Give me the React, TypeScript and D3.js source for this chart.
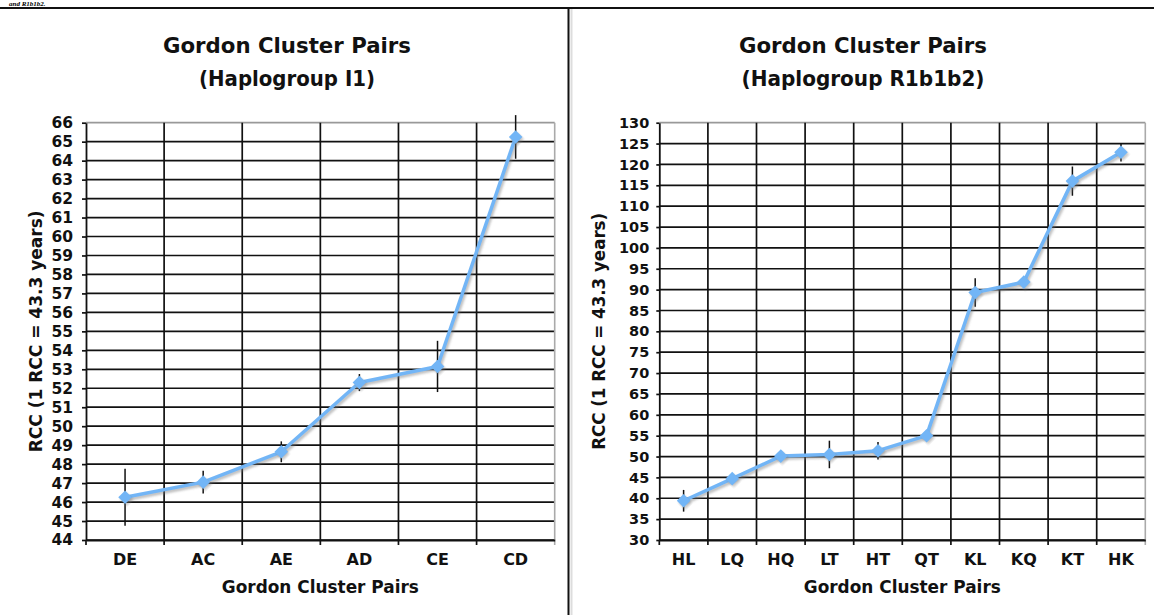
import { useEffect, useRef } from 'react'
import * as d3 from 'd3'

// Haplogroup I1
const i1Pairs = ['DE', 'AC', 'AE', 'AD', 'CE', 'CD']
const i1Values = [46.25, 47.05, 48.65, 52.3, 53.15, 65.25]
const i1Errors = [1.5, 0.6, 0.55, 0.45, 1.35, 1.15]
const i1Ticks = [44, 45, 46, 47, 48, 49, 50, 51, 52, 53, 54, 55, 56, 57, 58, 59, 60, 61, 62, 63, 64, 65, 66]

// Haplogroup R1b1b2
const r1Pairs = ['HL', 'LQ', 'HQ', 'LT', 'HT', 'QT', 'KL', 'KQ', 'KT', 'HK']
const r1Values = [39.4, 44.7, 50.1, 50.5, 51.4, 55.0, 89.3, 91.8, 116.0, 122.9]
const r1Errors = [2.6, 0.9, 0.4, 3.3, 2.1, 0.5, 3.4, 0.5, 3.5, 2.2]
const r1Ticks = [30, 35, 40, 45, 50, 55, 60, 65, 70, 75, 80, 85, 90, 95, 100, 105, 110, 115, 120, 125, 130]

const FONT = "'DejaVu Sans', 'Liberation Sans', Arial, sans-serif"
const BLUE = '#72b5f6'

const drawPanel = (svg, cfg) => {
  const { cats, values, errors, ticks } = cfg
  const g = svg.append('g')

  const x = d3.scaleBand().domain(cats).range([cfg.x0, cfg.x1]).padding(0)
  const y = d3.scaleLinear()
    .domain([ticks[0], ticks[ticks.length - 1]])
    .range([cfg.y1, cfg.y0])
  const cx = (d) => x(d) + x.bandwidth() / 2
  const top = ticks[ticks.length - 1]

  // horizontal grid
  g.append('g').selectAll('line')
    .data(ticks)
    .join('line')
    .attr('x1', cfg.x0).attr('x2', cfg.x1)
    .attr('y1', d => y(d)).attr('y2', d => y(d))
    .attr('stroke', d => d === top ? '#999' : '#111')
    .attr('stroke-width', 1.7)

  // vertical grid at category boundaries
  g.append('g').selectAll('line')
    .data(cats.slice(1))
    .join('line')
    .attr('x1', d => x(d)).attr('x2', d => x(d))
    .attr('y1', cfg.y0).attr('y2', cfg.y1 + 5)
    .attr('stroke', '#111')
    .attr('stroke-width', 1.7)

  // right border
  g.append('line')
    .attr('x1', cfg.x1).attr('x2', cfg.x1)
    .attr('y1', cfg.y0).attr('y2', cfg.y1 + 5)
    .attr('stroke', '#aaa')
    .attr('stroke-width', 1.6)

  // y axis
  const yAxis = g.append('g')
    .attr('transform', `translate(${cfg.x0},0)`)
    .call(d3.axisLeft(y).tickValues(ticks).tickSize(cfg.tickLen).tickSizeOuter(0).tickPadding(cfg.tickPad))
  yAxis.select('.domain').attr('stroke', '#111').attr('stroke-width', 1.8)
  yAxis.selectAll('.tick line').attr('stroke', '#111').attr('stroke-width', 1.7)
  yAxis.selectAll('text')
    .attr('font-family', FONT)
    .attr('font-weight', 'bold')
    .attr('font-size', cfg.yFont)
    .attr('fill', '#111')

  // x axis
  const xAxis = g.append('g')
    .attr('transform', `translate(0,${cfg.y1})`)
    .call(d3.axisBottom(x).tickSize(0).tickSizeOuter(0))
  xAxis.select('.domain').attr('stroke', '#111').attr('stroke-width', 1.8)
  xAxis.selectAll('text')
    .attr('dy', null)
    .attr('y', 25)
    .attr('font-family', FONT)
    .attr('font-weight', 'bold')
    .attr('font-size', 16)
    .attr('fill', '#111')
  g.append('line')
    .attr('x1', cfg.x0).attr('x2', cfg.x0)
    .attr('y1', cfg.y1).attr('y2', cfg.y1 + 5)
    .attr('stroke', '#111').attr('stroke-width', 1.7)

  // error bars
  g.append('g').selectAll('line')
    .data(cats)
    .join('line')
    .attr('x1', d => cx(d)).attr('x2', d => cx(d))
    .attr('y1', (d, i) => y(values[i] + errors[i]))
    .attr('y2', (d, i) => y(values[i] - errors[i]))
    .attr('stroke', '#111')
    .attr('stroke-width', 1.5)

  const line = d3.line()
    .x((d, i) => cx(cats[i]))
    .y(d => y(d))

  // shadow
  g.append('path')
    .datum(values)
    .attr('d', line)
    .attr('fill', 'none')
    .attr('stroke', '#777')
    .attr('stroke-opacity', 0.45)
    .attr('stroke-width', 3.8)
    .attr('transform', 'translate(1.5,2)')
    .attr('filter', 'url(#soft)')

  g.append('path')
    .datum(values)
    .attr('d', line)
    .attr('fill', 'none')
    .attr('stroke', BLUE)
    .attr('stroke-width', 3.5)
    .attr('stroke-linejoin', 'round')

  const diamond = d3.symbol(d3.symbolSquare, 92)
  g.append('g').selectAll('path')
    .data(values)
    .join('path')
    .attr('d', diamond)
    .attr('transform', (d, i) => `translate(${cx(cats[i]) + 1.5},${y(d) + 2}) rotate(45)`)
    .attr('fill', '#777')
    .attr('fill-opacity', 0.4)
    .attr('filter', 'url(#soft)')
  g.append('g').selectAll('path')
    .data(values)
    .join('path')
    .attr('d', diamond)
    .attr('transform', (d, i) => `translate(${cx(cats[i])},${y(d)}) rotate(45)`)
    .attr('fill', BLUE)

  // titles
  const title = g.append('g')
    .attr('font-family', FONT)
    .attr('font-weight', 'bold')
    .attr('fill', '#111')
    .attr('text-anchor', 'middle')
  title.append('text')
    .attr('x', cfg.titleX).attr('y', 53)
    .attr('font-size', 21)
    .attr('textLength', 248).attr('lengthAdjust', 'spacingAndGlyphs')
    .text('Gordon Cluster Pairs')
  title.append('text')
    .attr('x', cfg.titleX).attr('y', 86)
    .attr('font-size', 21)
    .attr('textLength', cfg.subWidth).attr('lengthAdjust', 'spacingAndGlyphs')
    .text(cfg.subtitle)
  title.append('text')
    .attr('x', (cfg.x0 + cfg.x1) / 2).attr('y', 593)
    .attr('font-size', 17)
    .attr('textLength', 197).attr('lengthAdjust', 'spacingAndGlyphs')
    .text('Gordon Cluster Pairs')
  title.append('text')
    .attr('transform', `translate(${cfg.yTitleX},${(cfg.y0 + cfg.y1) / 2}) rotate(-90)`)
    .attr('font-size', 17)
    .attr('textLength', cfg.yTitleLen).attr('lengthAdjust', 'spacingAndGlyphs')
    .text('RCC (1 RCC = 43.3 years)')
}

const App = () => {
  const ref = useRef(null)

  useEffect(() => {
    const width = 1154
    const height = 615
    const svg = d3.select(ref.current)
    svg.selectAll('*').remove()
    svg.attr('width', width).attr('height', height)

    svg.append('defs').append('filter')
      .attr('id', 'soft')
      .append('feGaussianBlur')
      .attr('stdDeviation', 0.8)

    svg.append('rect').attr('width', width).attr('height', height).attr('fill', '#fff')

    // text from the page above, squeezed into the strip over the rule
    svg.append('text')
      .attr('x', 9).attr('y', 6)
      .attr('font-family', "'Liberation Serif', serif")
      .attr('font-weight', 'bold')
      .attr('font-style', 'italic')
      .attr('font-size', 7)
      .text('and R1b1b2.')

    // page frame
    svg.append('line')
      .attr('x1', 0).attr('x2', width).attr('y1', 8).attr('y2', 8)
      .attr('stroke', '#111').attr('stroke-width', 2)
    svg.append('line')
      .attr('x1', 568.5).attr('x2', 568.5).attr('y1', 8).attr('y2', height)
      .attr('stroke', '#111').attr('stroke-width', 2)
    svg.append('line')
      .attr('x1', 571.5).attr('x2', 571.5).attr('y1', 9).attr('y2', height)
      .attr('stroke', '#ddd').attr('stroke-width', 2)

    drawPanel(svg, {
      cats: i1Pairs, values: i1Values, errors: i1Errors, ticks: i1Ticks,
      x0: 86, x1: 554.7, y0: 122.7, y1: 540,
      tickLen: 4, tickPad: 9, yFont: 15.5,
      titleX: 287, subtitle: '(Haplogroup I1)', subWidth: 176,
      yTitleX: 42, yTitleLen: 242
    })

    drawPanel(svg, {
      cats: r1Pairs, values: r1Values, errors: r1Errors, ticks: r1Ticks,
      x0: 659.3, x1: 1145.3, y0: 122.7, y1: 540,
      tickLen: 3, tickPad: 7, yFont: 14.5,
      titleX: 863, subtitle: '(Haplogroup R1b1b2)', subWidth: 243,
      yTitleX: 605, yTitleLen: 237
    })
  }, [])

  return (
    <div style={{ position: 'absolute', left: 0, top: 0 }}>
      <svg ref={ref}></svg>
    </div>
  )
}

export default App
